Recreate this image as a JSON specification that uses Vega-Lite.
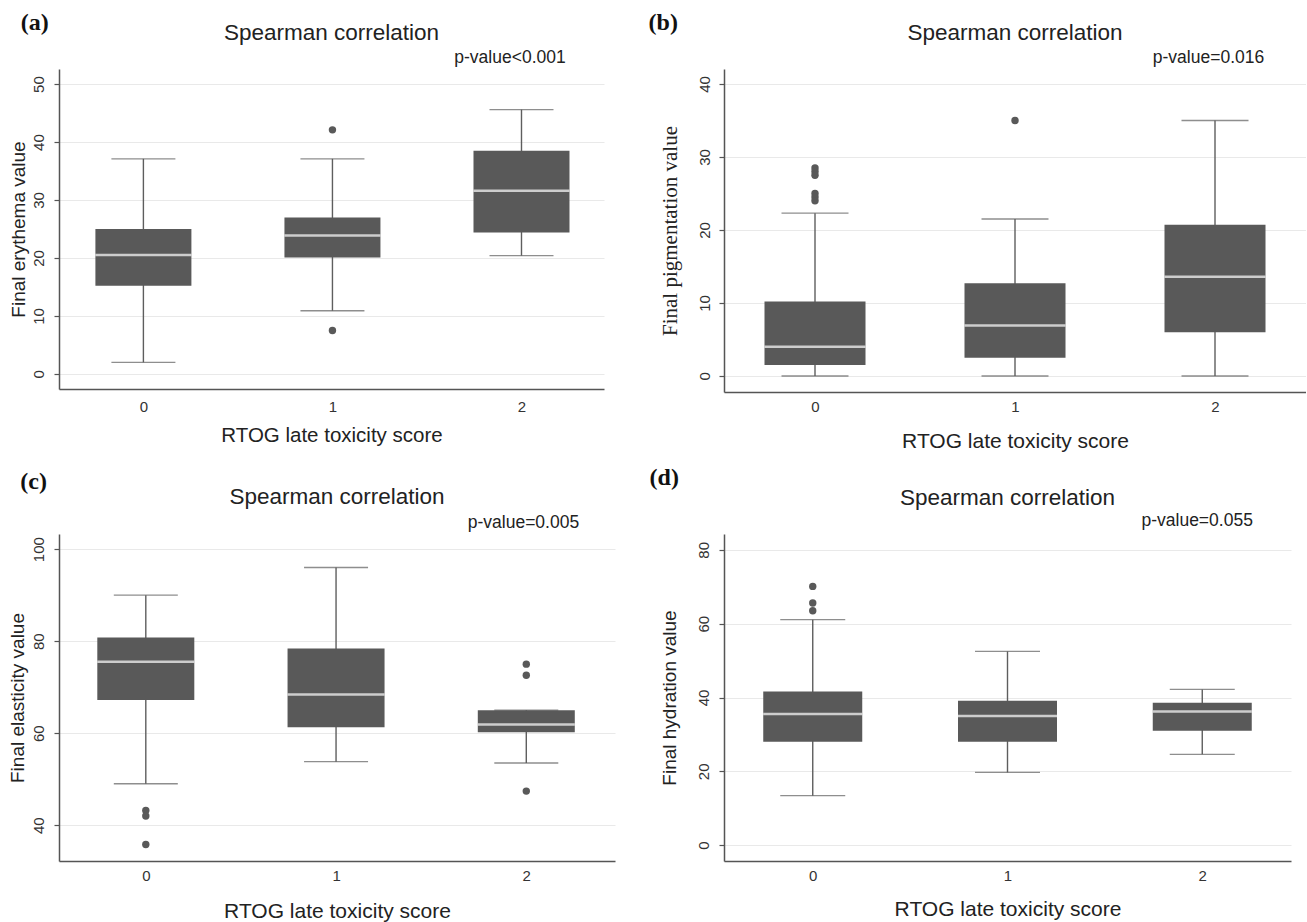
{
  "$schema": "https://vega.github.io/schema/vega-lite/v6.json",
  "background": "white",
  "padding": {"left": 8, "top": 10, "right": 0, "bottom": 0},
  "columns": 2,
  "bounds": "flush",
  "spacing": {"row": 142, "column": 109},
  "config": {
    "view": {"stroke": null},
    "axis": {
      "domainColor": "#555555", "domainWidth": 1.5,
      "tickColor": "#555555", "tickWidth": 1.2,
      "gridColor": "#e9e9e9", "gridWidth": 1.2,
      "labelFont": "Liberation Sans", "labelFontSize": 15, "labelColor": "#333333",
      "titleFont": "Liberation Sans", "titleFontWeight": "normal", "titleColor": "#222222"
    },
    "text": {"font": "Liberation Sans", "color": "#222222"}
  },
  "concat": [
    {
      "width": 545, "height": 320,
      "data": {"values": [
        {"score": 0, "low": 2, "q1": 15.2, "median": 20.5, "q3": 25, "high": 37.1},
        {"score": 1, "low": 10.9, "q1": 20.1, "median": 23.9, "q3": 27, "high": 37.1},
        {"score": 2, "low": 20.4, "q1": 24.4, "median": 31.6, "q3": 38.5, "high": 45.6}
      ]},
      "layer": [
        {"mark": {"type": "rule", "color": "#5e5e5e", "strokeWidth": 1.4},
         "encoding": {
           "x": {"field": "score", "type": "quantitative", "scale": {"domain": [-0.42, 2.41], "nice": false, "zero": false},
             "axis": {"values": [0, 1, 2], "format": "d", "ticks": false, "tickSize": 0, "labelPadding": 10, "grid": false, "title": "RTOG late toxicity score", "titleFontSize": 20.5, "titlePadding": 11}},
           "y": {"field": "low", "type": "quantitative", "scale": {"domain": [-2.6, 52.6], "nice": false, "zero": false},
           "axis": {"values": [0, 10, 20, 30, 40, 50], "labelAngle": -90, "tickSize": 5, "labelPadding": 8, "grid": true, "title": "Final erythema value", "titleFontSize": 19, "titlePadding": 2.5}},
           "y2": {"field": "high"}}},
        {"mark": {"type": "tick", "orient": "horizontal", "size": 64, "thickness": 1.4, "color": "#5e5e5e"}, "encoding": {"x": {"field": "score", "type": "quantitative"}, "y": {"field": "low", "type": "quantitative"}}},
        {"mark": {"type": "tick", "orient": "horizontal", "size": 64, "thickness": 1.4, "color": "#5e5e5e"}, "encoding": {"x": {"field": "score", "type": "quantitative"}, "y": {"field": "high", "type": "quantitative"}}},
        {"mark": {"type": "bar", "orient": "vertical", "size": 96, "color": "#595959"}, "encoding": {"x": {"field": "score", "type": "quantitative"}, "y": {"field": "q1", "type": "quantitative"}, "y2": {"field": "q3"}}},
        {"mark": {"type": "tick", "orient": "horizontal", "size": 96, "thickness": 2.5, "color": "white"}, "encoding": {"x": {"field": "score", "type": "quantitative"}, "y": {"field": "median", "type": "quantitative"}}},
        {"data": {"values": [{"score": 1, "value": 42.1}, {"score": 1, "value": 7.5}]},
         "mark": {"type": "circle", "size": 55, "color": "#595959", "opacity": 1}, "encoding": {"x": {"field": "score", "type": "quantitative"}, "y": {"field": "value", "type": "quantitative"}}},
        {"data": {"values": [{"label": "Spearman correlation"}]}, "mark": {"type": "text", "align": "center", "baseline": "middle", "fontSize": 22.5},
         "encoding": {"x": {"datum": 0.995}, "y": {"datum": 58.85}, "text": {"field": "label"}}},
        {"data": {"values": [{"label": "p-value<0.001"}]}, "mark": {"type": "text", "align": "right", "baseline": "middle", "fontSize": 17.5},
         "encoding": {"x": {"datum": 2.234}, "y": {"datum": 54.5}, "text": {"field": "label"}}},
        {"data": {"values": [{"label": "(a)"}]}, "mark": {"type": "text", "align": "left", "baseline": "middle", "font": "Liberation Serif", "fontWeight": "bold", "fontSize": 24, "color": "#111111"},
         "encoding": {"x": {"datum": -0.649}, "y": {"datum": 60.6}, "text": {"field": "label"}}}
      ]
    },
    {
      "width": 582, "height": 323,
      "data": {"values": [
        {"score": 0, "low": 0, "q1": 1.5, "median": 4.0, "q3": 10.2, "high": 22.3},
        {"score": 1, "low": 0, "q1": 2.5, "median": 6.9, "q3": 12.7, "high": 21.5},
        {"score": 2, "low": 0, "q1": 6.0, "median": 13.6, "q3": 20.7, "high": 35}
      ]},
      "layer": [
        {"mark": {"type": "rule", "color": "#5e5e5e", "strokeWidth": 1.4},
         "encoding": {
           "x": {"field": "score", "type": "quantitative", "scale": {"domain": [-0.43, 2.43], "nice": false, "zero": false},
             "axis": {"values": [0, 1, 2], "format": "d", "ticks": false, "tickSize": 0, "labelPadding": 7, "grid": false, "title": "RTOG late toxicity score", "titleFontSize": 21, "titlePadding": 16.5}},
           "y": {"field": "low", "type": "quantitative", "scale": {"domain": [-2.2, 42.05], "nice": false, "zero": false},
           "axis": {"values": [0, 10, 20, 30, 40], "labelAngle": -90, "tickSize": 5, "labelPadding": 7, "grid": true, "title": "Final pigmentation value", "titleFont": "Liberation Serif", "titleFontSize": 21, "titlePadding": 16.5}},
           "y2": {"field": "high"}}},
        {"mark": {"type": "tick", "orient": "horizontal", "size": 67, "thickness": 1.4, "color": "#5e5e5e"}, "encoding": {"x": {"field": "score", "type": "quantitative"}, "y": {"field": "low", "type": "quantitative"}}},
        {"mark": {"type": "tick", "orient": "horizontal", "size": 67, "thickness": 1.4, "color": "#5e5e5e"}, "encoding": {"x": {"field": "score", "type": "quantitative"}, "y": {"field": "high", "type": "quantitative"}}},
        {"mark": {"type": "bar", "orient": "vertical", "size": 101, "color": "#595959"}, "encoding": {"x": {"field": "score", "type": "quantitative"}, "y": {"field": "q1", "type": "quantitative"}, "y2": {"field": "q3"}}},
        {"mark": {"type": "tick", "orient": "horizontal", "size": 101, "thickness": 2.5, "color": "white"}, "encoding": {"x": {"field": "score", "type": "quantitative"}, "y": {"field": "median", "type": "quantitative"}}},
        {"data": {"values": [
          {"score": 0, "value": 28.5}, {"score": 0, "value": 28.0}, {"score": 0, "value": 27.5},
          {"score": 0, "value": 25.0}, {"score": 0, "value": 24.5}, {"score": 0, "value": 24.0},
          {"score": 1, "value": 35}]},
         "mark": {"type": "circle", "size": 55, "color": "#595959", "opacity": 1}, "encoding": {"x": {"field": "score", "type": "quantitative"}, "y": {"field": "value", "type": "quantitative"}}},
        {"data": {"values": [{"label": "Spearman correlation"}]}, "mark": {"type": "text", "align": "center", "baseline": "middle", "fontSize": 22.5},
         "encoding": {"x": {"datum": 1.0}, "y": {"datum": 47.0}, "text": {"field": "label"}}},
        {"data": {"values": [{"label": "p-value=0.016"}]}, "mark": {"type": "text", "align": "right", "baseline": "middle", "fontSize": 17.5},
         "encoding": {"x": {"datum": 2.246}, "y": {"datum": 43.56}, "text": {"field": "label"}}},
        {"data": {"values": [{"label": "(b)"}]}, "mark": {"type": "text", "align": "left", "baseline": "middle", "font": "Liberation Serif", "fontWeight": "bold", "fontSize": 24, "color": "#111111"},
         "encoding": {"x": {"datum": -0.832}, "y": {"datum": 48.33}, "text": {"field": "label"}}}
      ]
    },
    {
      "width": 556, "height": 327,
      "data": {"values": [
        {"score": 0, "low": 49, "q1": 67.2, "median": 75.5, "q3": 80.8, "high": 90},
        {"score": 1, "low": 53.8, "q1": 61.3, "median": 68.4, "q3": 78.4, "high": 96},
        {"score": 2, "low": 53.5, "q1": 60.2, "median": 61.9, "q3": 65, "high": 65}
      ]},
      "layer": [
        {"mark": {"type": "rule", "color": "#5e5e5e", "strokeWidth": 1.4},
         "encoding": {
           "x": {"field": "score", "type": "quantitative", "scale": {"domain": [-0.43, 2.44], "nice": false, "zero": false},
             "axis": {"values": [0, 1, 2], "format": "d", "ticks": false, "tickSize": 0, "labelPadding": 7, "grid": false, "title": "RTOG late toxicity score", "titleFontSize": 21, "titlePadding": 17.5}},
           "y": {"field": "low", "type": "quantitative", "scale": {"domain": [32.2, 103.3], "nice": false, "zero": false},
           "axis": {"values": [40, 60, 80, 100], "labelAngle": -90, "tickSize": 5, "labelPadding": 8, "grid": true, "title": "Final elasticity value", "titleFontSize": 19, "titlePadding": 3.5}},
           "y2": {"field": "high"}}},
        {"mark": {"type": "tick", "orient": "horizontal", "size": 64, "thickness": 1.4, "color": "#5e5e5e"}, "encoding": {"x": {"field": "score", "type": "quantitative"}, "y": {"field": "low", "type": "quantitative"}}},
        {"mark": {"type": "tick", "orient": "horizontal", "size": 64, "thickness": 1.4, "color": "#5e5e5e"}, "encoding": {"x": {"field": "score", "type": "quantitative"}, "y": {"field": "high", "type": "quantitative"}}},
        {"mark": {"type": "bar", "orient": "vertical", "size": 97, "color": "#595959"}, "encoding": {"x": {"field": "score", "type": "quantitative"}, "y": {"field": "q1", "type": "quantitative"}, "y2": {"field": "q3"}}},
        {"mark": {"type": "tick", "orient": "horizontal", "size": 97, "thickness": 2.5, "color": "white"}, "encoding": {"x": {"field": "score", "type": "quantitative"}, "y": {"field": "median", "type": "quantitative"}}},
        {"data": {"values": [
          {"score": 0, "value": 43.2}, {"score": 0, "value": 42.0}, {"score": 0, "value": 35.8},
          {"score": 2, "value": 75.0}, {"score": 2, "value": 72.6}, {"score": 2, "value": 47.4}]},
         "mark": {"type": "circle", "size": 55, "color": "#595959", "opacity": 1}, "encoding": {"x": {"field": "score", "type": "quantitative"}, "y": {"field": "value", "type": "quantitative"}}},
        {"data": {"values": [{"label": "Spearman correlation"}]}, "mark": {"type": "text", "align": "center", "baseline": "middle", "fontSize": 22.5},
         "encoding": {"x": {"datum": 1.005}, "y": {"datum": 111.3}, "text": {"field": "label"}}},
        {"data": {"values": [{"label": "p-value=0.005"}]}, "mark": {"type": "text", "align": "right", "baseline": "middle", "fontSize": 17.5},
         "encoding": {"x": {"datum": 2.278}, "y": {"datum": 105.67}, "text": {"field": "label"}}},
        {"data": {"values": [{"label": "(c)"}]}, "mark": {"type": "text", "align": "left", "baseline": "middle", "font": "Liberation Serif", "fontWeight": "bold", "fontSize": 24, "color": "#111111"},
         "encoding": {"x": {"datum": -0.66}, "y": {"datum": 114.6}, "text": {"field": "label"}}}
      ]
    },
    {
      "width": 567, "height": 327,
      "data": {"values": [
        {"score": 0, "low": 13.4, "q1": 28.0, "median": 35.5, "q3": 41.6, "high": 61.1},
        {"score": 1, "low": 19.7, "q1": 28.0, "median": 35.0, "q3": 39.1, "high": 52.5},
        {"score": 2, "low": 24.6, "q1": 31.0, "median": 36.2, "q3": 38.6, "high": 42.2}
      ]},
      "layer": [
        {"mark": {"type": "rule", "color": "#5e5e5e", "strokeWidth": 1.4},
         "encoding": {
           "x": {"field": "score", "type": "quantitative", "scale": {"domain": [-0.43, 2.43], "nice": false, "zero": false},
             "axis": {"values": [0, 1, 2], "format": "d", "ticks": false, "tickSize": 0, "labelPadding": 7, "grid": false, "title": "RTOG late toxicity score", "titleFontSize": 21, "titlePadding": 15.5}},
           "y": {"field": "low", "type": "quantitative", "scale": {"domain": [-4.3, 84.3], "nice": false, "zero": false},
           "axis": {"values": [0, 20, 40, 60, 80], "labelAngle": -90, "tickSize": 5, "labelPadding": 8, "grid": true, "title": "Final hydration value", "titleFontSize": 19, "titlePadding": 16.5}},
           "y2": {"field": "high"}}},
        {"mark": {"type": "tick", "orient": "horizontal", "size": 65, "thickness": 1.4, "color": "#5e5e5e"}, "encoding": {"x": {"field": "score", "type": "quantitative"}, "y": {"field": "low", "type": "quantitative"}}},
        {"mark": {"type": "tick", "orient": "horizontal", "size": 65, "thickness": 1.4, "color": "#5e5e5e"}, "encoding": {"x": {"field": "score", "type": "quantitative"}, "y": {"field": "high", "type": "quantitative"}}},
        {"mark": {"type": "bar", "orient": "vertical", "size": 99, "color": "#595959"}, "encoding": {"x": {"field": "score", "type": "quantitative"}, "y": {"field": "q1", "type": "quantitative"}, "y2": {"field": "q3"}}},
        {"mark": {"type": "tick", "orient": "horizontal", "size": 99, "thickness": 2.5, "color": "white"}, "encoding": {"x": {"field": "score", "type": "quantitative"}, "y": {"field": "median", "type": "quantitative"}}},
        {"data": {"values": [{"score": 0, "value": 70.1}, {"score": 0, "value": 65.6}, {"score": 0, "value": 63.5}]},
         "mark": {"type": "circle", "size": 55, "color": "#595959", "opacity": 1}, "encoding": {"x": {"field": "score", "type": "quantitative"}, "y": {"field": "value", "type": "quantitative"}}},
        {"data": {"values": [{"label": "Spearman correlation"}]}, "mark": {"type": "text", "align": "center", "baseline": "middle", "fontSize": 22.5},
         "encoding": {"x": {"datum": 1.0}, "y": {"datum": 94.1}, "text": {"field": "label"}}},
        {"data": {"values": [{"label": "p-value=0.055"}]}, "mark": {"type": "text", "align": "right", "baseline": "middle", "fontSize": 17.5},
         "encoding": {"x": {"datum": 2.26}, "y": {"datum": 87.8}, "text": {"field": "label"}}},
        {"data": {"values": [{"label": "(d)"}]}, "mark": {"type": "text", "align": "left", "baseline": "middle", "font": "Liberation Serif", "fontWeight": "bold", "fontSize": 24, "color": "#111111"},
         "encoding": {"x": {"datum": -0.838}, "y": {"datum": 99.5}, "text": {"field": "label"}}}
      ]
    }
  ]
}
